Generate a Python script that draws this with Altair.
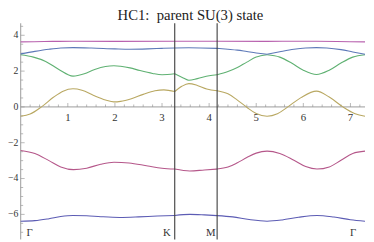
import altair as alt
import pandas as pd

TITLE = "HC1:\u00a0 parent SU(3) state"

# high-symmetry points along the path
k_pos = [0.0, 3.27, 4.17, 7.31]
k_names = ["Γ", "K", "M", "Γ"]

x_major = [1, 2, 3, 4, 5, 6, 7]
x_major_labels = ["1", "2", "3", "4", "5", "6", "7"]
y_major = [-6, -4, -2, 0, 2, 4]
y_major_labels = ["−6", "−4", "−2", "0", "2", "4"]
x_minor = [round(i * 0.2, 1) for i in range(1, 37) if i % 5]
y_minor = [v / 2 for v in range(-14, 10) if v % 4]

# bands
b1_x = [0, 0.3, 0.6, 0.85, 1.11, 1.4, 1.7, 2.1, 2.5, 2.9, 3.27, 3.59, 3.9, 4.17, 4.5, 4.85, 5.23, 5.55, 5.9, 6.29, 6.65, 7.0, 7.31]
b1_y = [-6.38, -6.35, -6.24, -6.12, -6.06, -6.08, -6.13, -6.17, -6.14, -6.09, -6.06, -6.0, -6.03, -6.07, -6.14, -6.29, -6.38, -6.31, -6.16, -6.06, -6.15, -6.30, -6.38]

b2_x = [0, 0.3, 0.6, 0.85, 1.12, 1.4, 1.7, 1.98, 2.3, 2.7, 3.0, 3.27, 3.59, 3.9, 4.17, 4.4, 4.6, 4.8, 5.0, 5.23, 5.5, 5.8, 6.05, 6.29, 6.55, 6.8, 7.05, 7.31]
b2_y = [-2.43, -2.6, -3.0, -3.35, -3.5, -3.42, -3.2, -3.09, -3.13, -3.3, -3.42, -3.47, -3.58, -3.52, -3.47, -3.36, -3.12, -2.83, -2.58, -2.47, -2.6, -2.98, -3.33, -3.47, -3.35, -2.98, -2.6, -2.47]

b3_x = [0, 0.2, 0.44, 0.7, 0.9, 1.11, 1.3, 1.55, 1.8, 1.98, 2.12, 2.35, 2.6, 2.85, 3.04, 3.27, 3.42, 3.57, 3.75, 3.95, 4.17, 4.4, 4.6, 4.8, 5.0, 5.23, 5.45, 5.67, 5.95, 6.28, 6.55, 6.84, 7.1, 7.31]
b3_y = [-0.52, -0.40, 0.0, 0.55, 0.88, 1.01, 0.93, 0.64, 0.39, 0.28, 0.31, 0.46, 0.70, 0.90, 0.95, 0.86, 1.15, 1.30, 1.20, 1.0, 0.90, 0.73, 0.38, -0.02, -0.37, -0.52, -0.38, 0.0, 0.52, 0.88, 0.55, 0.0, -0.38, -0.52]

b4_x = [0, 0.27, 0.53, 0.81, 1.11, 1.35, 1.57, 1.8, 1.98, 2.12, 2.32, 2.53, 2.8, 3.0, 3.27, 3.45, 3.57, 3.75, 4.0, 4.17, 4.4, 4.6, 4.8, 5.0, 5.23, 5.5, 5.75, 6.0, 6.28, 6.55, 6.8, 7.05, 7.31]
b4_y = [2.91, 2.78, 2.54, 2.09, 1.72, 1.85, 2.09, 2.26, 2.30, 2.27, 2.18, 2.03, 1.87, 1.80, 1.85, 1.62, 1.49, 1.58, 1.74, 1.80, 1.98, 2.2, 2.5, 2.78, 2.91, 2.78, 2.45, 2.05, 1.81, 2.05, 2.45, 2.78, 2.91]

b5_x = [0, 0.3, 0.6, 0.85, 1.11, 1.5, 2.0, 2.32, 2.7, 3.0, 3.27, 3.57, 4.17, 4.4, 4.6, 4.8, 5.0, 5.23, 5.5, 5.8, 6.05, 6.28, 6.5, 6.8, 7.05, 7.31]
b5_y = [2.96, 3.1, 3.22, 3.29, 3.31, 3.29, 3.24, 3.22, 3.24, 3.27, 3.29, 3.30, 3.27, 3.22, 3.17, 3.09, 3.01, 2.94, 3.08, 3.22, 3.29, 3.31, 3.29, 3.2, 3.07, 2.94]

b6_x = [0, 0.5, 1.11, 2.0, 3.27, 4.17, 5.23, 6.28, 7.31]
b6_y = [3.63, 3.65, 3.67, 3.66, 3.67, 3.67, 3.66, 3.67, 3.63]

band_names = ["b1", "b2", "b3", "b4", "b5", "b6"]
band_colors = ["#5c5cb4", "#b5578a", "#b9a862", "#5fb172", "#5d79b8", "#b861ae"]
bands = [(b1_x, b1_y), (b2_x, b2_y), (b3_x, b3_y), (b4_x, b4_y), (b5_x, b5_y), (b6_x, b6_y)]
extra_breaks = {"b4": [5.23], "b5": [5.23]}

rows = []
for name, (bx, by) in zip(band_names, bands):
    bp = sorted(set(k_pos + extra_breaks.get(name, [])))
    for s in range(len(bp) - 1):
        a, b = bp[s], bp[s + 1]
        for x, y in zip(bx, by):
            if a - 1e-9 <= x <= b + 1e-9:
                rows.append({"band": name, "seg": f"{name}-{s}", "x": x, "y": y})
df = pd.DataFrame(rows)

XMIN, XMAX = 0.0, 7.31
YMIN, YMAX = -7.4, 4.67
xs = alt.Scale(domain=[XMIN, XMAX], nice=False, zero=False)
ys = alt.Scale(domain=[YMIN, YMAX], nice=False, zero=False)
SERIF = "Liberation Serif"
AXC = "#9a9a9a"
TXT = "#333333"


def X(f):
    return alt.X(f, scale=xs, axis=None)


def Y(f):
    return alt.Y(f, scale=ys, axis=None)


lines = alt.Chart(df).mark_line(strokeWidth=1.1, interpolate="monotone").encode(
    x=X("x:Q"),
    y=Y("y:Q"),
    color=alt.Color("band:N", scale=alt.Scale(domain=band_names, range=band_colors), legend=None),
    detail="seg:N",
)

kdf = pd.DataFrame({"k": k_pos, "name": k_names, "bot": [YMIN] * len(k_pos)})
vlines = alt.Chart(kdf.iloc[1:3].reset_index(drop=True)).mark_rule(color="#3a3a3a", strokeWidth=1.1).encode(x=X("k:Q"))

zero = pd.DataFrame({"v": [0.0]})
xaxis = alt.Chart(zero).mark_rule(color=AXC, strokeWidth=1).encode(y=Y("v:Q"))
yaxis = alt.Chart(zero).mark_rule(color=AXC, strokeWidth=1).encode(x=X("v:Q"))

xmaj = pd.DataFrame({"v": x_major, "lab": x_major_labels, "z": [0.0] * len(x_major)})
xmin_df = pd.DataFrame({"v": x_minor, "z": [0.0] * len(x_minor)})
ymaj = pd.DataFrame({"v": y_major, "lab": y_major_labels, "z": [0.0] * len(y_major)})
ymin_df = pd.DataFrame({"v": y_minor, "z": [0.0] * len(y_minor)})

xt_major = alt.Chart(xmaj).mark_tick(orient="vertical", size=4, thickness=1, yOffset=-2, color=AXC).encode(
    x=X("v:Q"), y=Y("z:Q"))
xt_minor = alt.Chart(xmin_df).mark_tick(orient="vertical", size=2.5, thickness=1, yOffset=-1.25, color=AXC).encode(
    x=X("v:Q"), y=Y("z:Q"))
yt_major = alt.Chart(ymaj).mark_tick(orient="horizontal", size=4, thickness=1, xOffset=2, color=AXC).encode(
    y=Y("v:Q"), x=X("z:Q"))
yt_minor = alt.Chart(ymin_df).mark_tick(orient="horizontal", size=2.5, thickness=1, xOffset=1.25, color=AXC).encode(
    y=Y("v:Q"), x=X("z:Q"))

xlab = alt.Chart(xmaj).mark_text(font=SERIF, fontSize=11, color=TXT, baseline="top", dy=5).encode(
    x=X("v:Q"), y=Y("z:Q"), text="lab:N")
ylab = alt.Chart(ymaj).mark_text(font=SERIF, fontSize=10, color=TXT, baseline="middle", align="right", dx=-2.5).encode(
    y=Y("v:Q"), x=X("z:Q"), text="lab:N")


def klabel(i, align, dx):
    return alt.Chart(kdf.iloc[[i]].reset_index(drop=True)).mark_text(
        font=SERIF, fontSize=11, color=TXT, align=align, baseline="alphabetic", dx=dx, dy=-4
    ).encode(x=X("k:Q"), y=Y("bot:Q"), text="name:N")


tdf = pd.DataFrame({"t": [TITLE], "cx": [(XMIN + XMAX) / 2], "top": [YMAX]})
title = alt.Chart(tdf).mark_text(
    font=SERIF, fontSize=15, color="#222222", align="center", baseline="alphabetic", dx=-2.5, dy=-3
).encode(x=X("cx:Q"), y=Y("top:Q"), text="t:N")

chart = alt.layer(
    xaxis, yaxis, xt_minor, xt_major, yt_minor, yt_major, xlab, ylab,
    lines, vlines,
    klabel(0, "left", 6), klabel(1, "right", -4), klabel(2, "right", -1.5), klabel(3, "right", -9),
    title,
).properties(
    width=352,
    height=221,
    autosize=alt.AutoSizeParams(type="none"),
    padding={"left": 13, "top": 13, "right": 1, "bottom": 0},
).configure_view(stroke=None)

chart.save("out.html", embed_options={"renderer": "svg", "actions": False})
